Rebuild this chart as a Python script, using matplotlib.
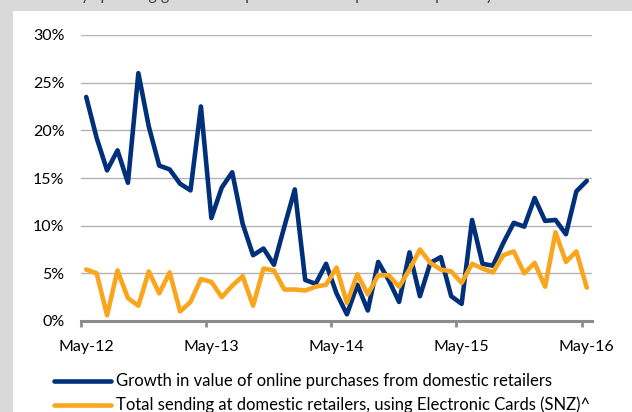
import matplotlib.pyplot as plt
from matplotlib.patches import Rectangle

# monthly, May-12 .. May-16 (49 points)
online = [23.5, 19.2, 15.8, 17.9, 14.5, 26.0, 20.4, 16.3, 15.9, 14.4, 13.7, 22.5,
          10.8, 14.0, 15.6, 10.2, 6.9, 7.6, 5.9, 9.9, 13.8, 4.3, 3.9, 6.0,
          2.9, 0.7, 3.8, 1.1, 6.2, 4.3, 2.0, 7.2, 2.6, 6.1, 6.7, 2.6,
          1.8, 10.6, 6.0, 5.8, 8.2, 10.3, 9.9, 12.9, 10.5, 10.6, 9.1, 13.6,
          14.7]
cards = [5.4, 5.0, 0.6, 5.3, 2.4, 1.6, 5.2, 2.9, 5.1, 1.0, 2.0, 4.4,
         4.1, 2.5, 3.7, 4.7, 1.6, 5.5, 5.3, 3.3, 3.3, 3.2, 3.6, 3.8,
         5.6, 1.9, 4.9, 2.8, 4.8, 4.8, 3.6, 5.4, 7.5, 6.1, 5.4, 5.2,
         4.0, 6.0, 5.5, 5.1, 6.9, 7.3, 5.0, 6.1, 3.6, 9.3, 6.2, 7.3,
         3.5]
tick_labels = ["May-12", "May-13", "May-14", "May-15", "May-16"]
y_ticks = [0, 5, 10, 15, 20, 25, 30]
legend_labels = ["Growth in value of online purchases from domestic retailers",
                 "Total sending at domestic retailers, using Electronic Cards (SNZ)^"]

blue = "#00307a"
orange = "#f9a61e"
plt.rcParams['font.family'] = ['Lato', 'DejaVu Sans']

fig = plt.figure(figsize=(6.32, 4.12), dpi=100)
fig.patch.set_facecolor("#d9d9d9")
fig.patches.append(Rectangle((13 / 632, 0), 1, 1 - 11 / 412, transform=fig.transFigure,
                             facecolor="white", edgecolor="none", zorder=-10))
fig.text(30 / 632, 1.0, "Monthly spending growth compared to online purchases quarterly",
         fontsize=11.5, color="#404040", va="baseline", ha="left")

ax = fig.add_axes([81 / 632, 1 - 321 / 412, (592 - 81) / 632, (321 - 35) / 412])
ax.set_facecolor("none")
x = list(range(len(online)))
ax.plot(x, online, color=blue, lw=3.3, solid_joinstyle="round", solid_capstyle="round", zorder=3)
ax.plot(x, cards, color=orange, lw=3.3, solid_joinstyle="round", solid_capstyle="round", zorder=3)

ax.set_xlim(-0.5, len(online) - 0.5)
ax.set_ylim(0, 30)
ax.set_yticks(y_ticks)
ax.set_yticklabels([f"{v}%" for v in y_ticks])
ax.grid(axis="y", color="#b3b3b3", lw=1.0, zorder=1)
ax.set_axisbelow(True)

ax.set_xticks([-0.5 + 12 * i for i in range(5)])
ax.set_xticklabels([])
ax.set_xticks([12 * i for i in range(5)], minor=True)
ax.set_xticklabels(tick_labels, minor=True)
ax.tick_params(axis="x", which="major", length=4, width=2, color="#8c8c8c", direction="out")
ax.tick_params(axis="x", which="minor", length=0, pad=14, labelsize=11.5, labelcolor="black")
ax.tick_params(axis="y", length=0, pad=12, labelsize=11.5, labelcolor="black")

for s in ["top", "right", "left"]:
    ax.spines[s].set_visible(False)
ax.spines["bottom"].set_color("#8c8c8c")
ax.spines["bottom"].set_linewidth(2.2)
ax.spines["bottom"].set_zorder(2)

# legend drawn by hand to match the layout
for i, (lab, col) in enumerate(zip(legend_labels, [blue, orange])):
    yy = 1 - (381 + 24 * i) / 412
    fig.add_artist(plt.Line2D([54 / 632, 111 / 632], [yy, yy], color=col, lw=3.3,
                              solid_capstyle="round", transform=fig.transFigure))
    fig.text(116 / 632, yy, lab, fontsize=12, va="center", ha="left", color="black")

fig.savefig("out.png", dpi=100, facecolor=fig.get_facecolor())
